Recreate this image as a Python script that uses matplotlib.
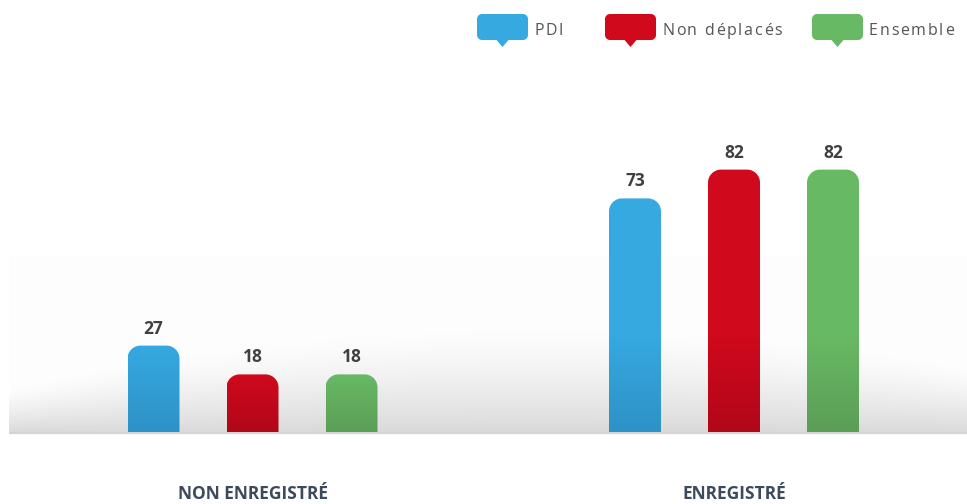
import numpy as np
import matplotlib
matplotlib.use("Agg")
import matplotlib.pyplot as plt
from matplotlib.path import Path
from matplotlib.patches import PathPatch
from matplotlib.colors import LinearSegmentedColormap

# ---- data ----
categories = ["NON ENREGISTRÉ", "ENREGISTRÉ"]
series_names = ["PDI", "Non déplacés", "Ensemble"]
pdi = [27, 73]
non_deplaces = [18, 82]
ensemble = [18, 82]
values = [pdi, non_deplaces, ensemble]

top_colors = ["#36a9e1", "#d0091c", "#68b964"]
bot_colors = ["#2d92c6", "#b10718", "#5b9e57"]

W, H = 967, 504
fig = plt.figure(figsize=(W / 100, H / 100), dpi=100)
fig.patch.set_facecolor("white")

# background overlay axes in pixel coords (decoration)
bg = fig.add_axes([0, 0, 1, 1], zorder=0)
bg.set_xlim(0, W)
bg.set_ylim(H, 0)
bg.axis("off")
xs = np.arange(0, W)
ys = np.arange(250, 433)
X, Y = np.meshgrid(xs, ys)
top = 330 + 45 * ((X - 540) / 460.0) ** 2
s = np.clip((Y - top) / (432 - top), 0, 1)
delta = 2 + 35 * s ** 1.3
delta[Y < 256] = 0
img = np.clip(255 - delta, 0, 255) / 255.0
rgb = np.dstack([img, img, img])
rgb[:, :9, :] = 1.0
bg.imshow(rgb, extent=(0, W, 433, 250), aspect="auto", interpolation="bilinear", zorder=0)
bg.plot([9, W], [432.5, 432.5], color="#d4d4d4", lw=1.6, solid_capstyle="butt", zorder=1)

# main axes
base_px = 432
top_px = 116
left_px = 10
scale = 3.2  # pixels per unit
ax = fig.add_axes([left_px / W, (H - base_px) / H, (W - left_px) / W, (base_px - top_px) / H], zorder=2)
ax.patch.set_alpha(0)
group_px = 481.5
c0 = 252.5
xmin = -(c0 - left_px) / group_px
xmax = (W - c0) / group_px
ax.set_xlim(xmin, xmax)
ax.set_ylim(0, (base_px - top_px) / scale)
for sp in ax.spines.values():
    sp.set_visible(False)
ax.set_yticks([])

offset = 99 / group_px
bw = 52 / group_px
xpos = np.arange(len(categories))

px_per_x = (W - left_px) / (xmax - xmin)
px_per_y = scale
r_px = 13
rx = r_px / px_per_x
ry = r_px / px_per_y

for i, (vals, tc, bc) in enumerate(zip(values, top_colors, bot_colors)):
    bars = ax.bar(xpos + (i - 1) * offset, vals, width=bw, color=tc, alpha=0)
    cmap = LinearSegmentedColormap.from_list("g%d" % i, [bc, tc])
    for rect, v in zip(bars, vals):
        x0 = rect.get_x()
        x1 = x0 + rect.get_width()
        h = rect.get_height()
        k = 0.5523
        verts = [
            (x0, 0), (x1, 0), (x1, h - ry),
            (x1, h - ry + k * ry), (x1 - rx + k * rx, h), (x1 - rx, h),
            (x0 + rx, h),
            (x0 + rx - k * rx, h), (x0, h - ry + k * ry), (x0, h - ry),
            (x0, 0),
        ]
        codes = [Path.MOVETO, Path.LINETO, Path.LINETO,
                 Path.CURVE4, Path.CURVE4, Path.CURVE4,
                 Path.LINETO,
                 Path.CURVE4, Path.CURVE4, Path.CURVE4,
                 Path.CLOSEPOLY]
        path = Path(verts, codes)
        if h > 30:
            ax.add_patch(PathPatch(path, facecolor=tc, edgecolor="none", zorder=2.5))
        patch = PathPatch(path, facecolor="none", edgecolor="none")
        ax.add_patch(patch)
        t = np.linspace(0, 1, 256)
        grad = np.clip(t, 0, 1)[:, None]
        im = ax.imshow(grad, extent=(x0, x1, 0, min(h, 30)), origin="lower", cmap=cmap,
                       vmin=0, vmax=1, aspect="auto", interpolation="bilinear", zorder=3)
        im.set_clip_path(patch)
        ax.text(x0 + (x1 - x0) / 2, h + 8 / px_per_y, f"{v}",
                ha="center", va="bottom",
                fontsize=12.5, fontweight="bold", color="#404040", family="Open Sans")

ax.set_xticks(xpos)
ax.set_xticklabels(categories, fontsize=12.5, fontweight="bold", color="#3d4a5c", family="Open Sans")
ax.tick_params(axis="x", length=0, pad=38)

fig.canvas.draw()
renderer = fig.canvas.get_renderer()


def spaced_text(axis, x, y, s, spacing, **kw):
    """Draw text with extra letter spacing (pixel coords on axis bg)."""
    cur = x
    for ch in s:
        t = axis.text(cur, y, ch, ha="left", va="center", **kw)
        bb = t.get_window_extent(renderer=renderer)
        if ch == " ":
            w = axis.text(0, 0, "n n", **kw)
            ww = w.get_window_extent(renderer=renderer).width
            w2 = axis.text(0, 0, "nn", **kw)
            ww2 = w2.get_window_extent(renderer=renderer).width
            w.remove(); w2.remove()
            adv = ww - ww2
        else:
            adv = bb.width
        cur += adv + spacing


# legend: speech-bubble markers in pixel coords
leg_x = [477, 605, 812]
for lx, name, col in zip(leg_x, series_names, top_colors):
    w, hh, r = 51, 26, 5
    y0 = 14
    k = 0.5523
    x1 = lx + w
    y1 = y0 + hh
    cx = lx + w / 2
    verts = [
        (lx + r, y0), (x1 - r, y0), (x1 - r + k * r, y0), (x1, y0 + r - k * r), (x1, y0 + r),
        (x1, y1 - r), (x1, y1 - r + k * r), (x1 - r + k * r, y1), (x1 - r, y1),
        (cx + 6, y1), (cx, y1 + 7), (cx - 6, y1),
        (lx + r, y1), (lx + r - k * r, y1), (lx, y1 - r + k * r), (lx, y1 - r),
        (lx, y0 + r), (lx, y0 + r - k * r), (lx + r - k * r, y0), (lx + r, y0),
        (lx + r, y0),
    ]
    codes = [Path.MOVETO, Path.LINETO, Path.CURVE4, Path.CURVE4, Path.CURVE4,
             Path.LINETO, Path.CURVE4, Path.CURVE4, Path.CURVE4,
             Path.LINETO, Path.LINETO, Path.LINETO,
             Path.LINETO, Path.CURVE4, Path.CURVE4, Path.CURVE4,
             Path.LINETO, Path.CURVE4, Path.CURVE4, Path.CURVE4,
             Path.CLOSEPOLY]
    bg.add_patch(PathPatch(Path(verts, codes), facecolor=col, edgecolor="none", zorder=5))
    spaced_text(bg, x1 + 6, 31, name, 1.7, fontsize=11.5, color="#555555",
                family="Open Sans", zorder=5)

fig.savefig("out.png", dpi=100, facecolor="white")
